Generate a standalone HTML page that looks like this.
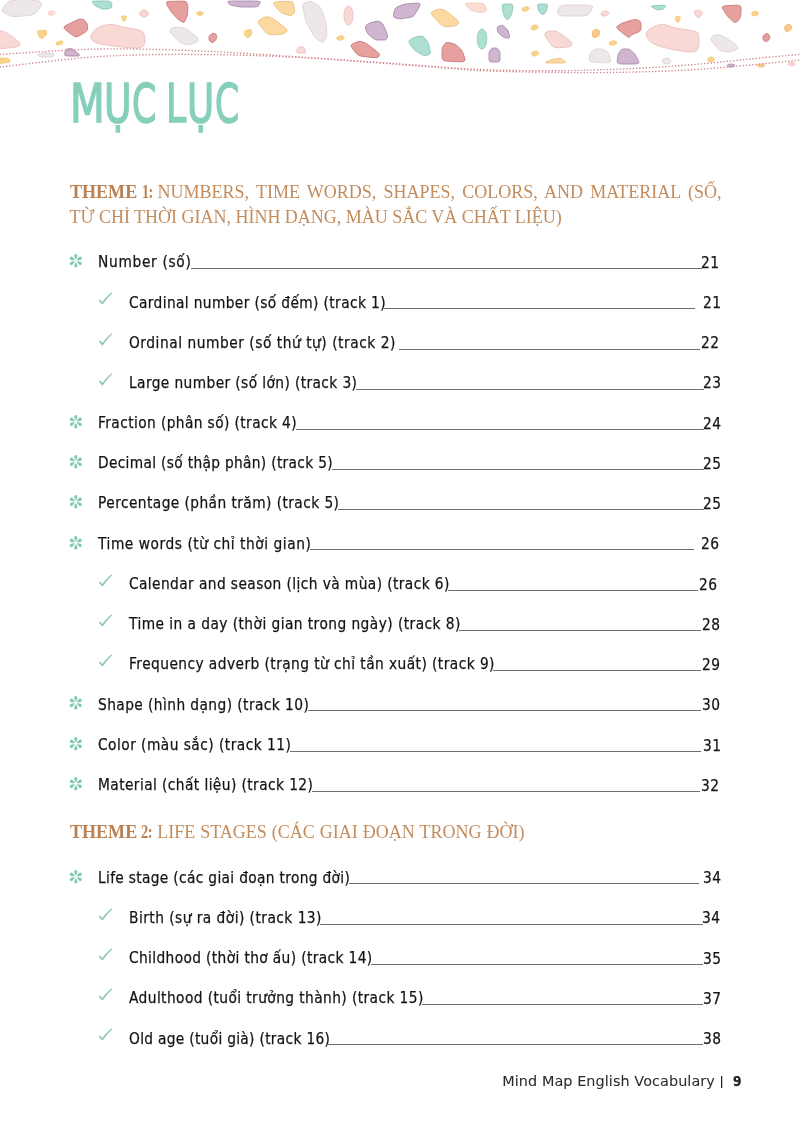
<!DOCTYPE html>
<html lang="vi"><head><meta charset="utf-8"><title>Mục lục</title>
<style>
html,body{margin:0;padding:0;background:#fff;}
body{width:800px;height:1134px;position:relative;overflow:hidden;}
.t{position:absolute;white-space:nowrap;font-family:'DejaVu Sans','Liberation Sans',sans-serif;font-size:15.3px;line-height:15.3px;color:#151314;-webkit-text-stroke:0.25px #151314;}
.c{transform:scaleX(0.9);transform-origin:0 0;}
.ln{position:absolute;height:1px;background:#707070;}
.i{position:absolute;overflow:visible;}
.th{position:absolute;white-space:nowrap;font-family:'Liberation Serif',serif;font-size:18px;line-height:18px;color:#c48c5c;}
.th.b{font-weight:bold;color:#bb8050;}
.ti{position:absolute;font-family:'DejaVu Sans',sans-serif;font-size:53.5px;line-height:60px;color:#86cfbb;-webkit-text-stroke:1.6px #86cfbb;transform-origin:0 0;white-space:nowrap;}
</style></head><body>

<svg style="position:absolute;left:0;top:0" width="800" height="80" viewBox="0 0 800 80">
<path d="M3.8,12.5 Q1.0,11.0 2.8,8.5 L6.2,3.5 Q8.0,1.0 11.5,0.5 L18.5,-0.5 Q22.0,-1.0 26.5,-0.5 L35.5,0.5 Q40.0,1.0 40.5,2.0 L41.5,4.0 Q42.0,5.0 40.0,7.5 L36.0,12.5 Q34.0,15.0 28.5,15.5 L17.5,16.5 Q12.0,17.0 9.2,15.5Z" fill="#ede7e8" stroke="#dcd2d4" stroke-width="0.9"/>
<path d="M54.8,11.8 Q55.2,12.3 55.0,13.0 L55.0,13.0 Q54.8,13.7 53.9,14.3 L53.9,14.3 Q53.0,14.9 51.9,15.1 L51.9,15.1 Q50.7,15.3 49.7,15.0 L49.7,15.0 Q48.7,14.8 48.2,14.2 L48.2,14.2 Q47.8,13.7 48.0,13.0 L48.0,13.0 Q48.2,12.3 49.1,11.7 L49.1,11.7 Q50.0,11.1 51.1,10.9 L51.1,10.9 Q52.3,10.7 53.3,11.0 L53.3,11.0 Q54.3,11.2 54.8,11.8Z" fill="#f9ddd2" stroke="#f3d0c4" stroke-width="0.9"/>
<path d="M64.4,28.6 Q62.5,27.0 66.6,25.0 L74.9,21.0 Q79.0,19.0 80.2,19.1 L82.8,19.4 Q84.0,19.5 84.9,20.6 L86.6,22.9 Q87.5,24.0 87.5,25.8 L87.5,29.2 Q87.5,31.0 84.6,32.6 L78.9,35.9 Q76.0,37.5 74.5,36.5 L71.5,34.5 Q70.0,33.5 68.1,31.9Z" fill="#e6a09e" stroke="#c97b7b" stroke-width="0.9"/>
<path d="M91.0,38.5 Q90.0,36.0 92.5,32.5 L92.5,32.5 Q95.0,29.0 99.5,27.0 L99.5,27.0 Q104.0,25.0 108.5,24.5 L108.5,24.5 Q113.0,24.0 117.0,25.5 L117.0,25.5 Q121.0,27.0 131.0,28.5 L131.0,28.5 Q141.0,30.0 143.0,32.0 L143.0,32.0 Q145.0,34.0 145.0,41.0 L145.0,41.0 Q145.0,48.0 137.5,48.0 L137.5,48.0 Q130.0,48.0 122.0,47.0 L122.0,47.0 Q114.0,46.0 106.5,45.0 L106.5,45.0 Q99.0,44.0 95.5,42.5 L95.5,42.5 Q92.0,41.0 91.0,38.5Z" fill="#f8d9d5" stroke="#ebc0bb" stroke-width="0.9"/>
<path d="M-2.0,34.8 Q-2.0,30.0 -0.2,30.5 L3.2,31.5 Q5.0,32.0 7.0,33.2 L11.0,35.8 Q13.0,37.0 15.0,38.8 L19.0,42.2 Q21.0,44.0 20.0,44.8 L18.0,46.2 Q17.0,47.0 12.2,47.5 L2.8,48.5 Q-2.0,49.0 -2.0,44.2Z" fill="#f8d9d5" stroke="#ebc0bb" stroke-width="0.9"/>
<path d="M37.5,32.5 Q37.0,31.0 39.2,30.8 L43.8,30.2 Q46.0,30.0 46.2,31.0 L46.8,33.0 Q47.0,34.0 45.8,35.2 L43.2,37.8 Q42.0,39.0 41.2,38.5 L39.8,37.5 Q39.0,37.0 38.5,35.5Z" fill="#f9d38c" stroke="#f4c878" stroke-width="0.9"/>
<path d="M62.7,41.5 Q63.2,42.0 63.0,42.7 L63.0,42.7 Q62.8,43.3 62.0,43.9 L62.0,43.9 Q61.1,44.5 60.0,44.8 L60.0,44.8 Q58.9,45.1 57.8,45.0 L57.8,45.0 Q56.8,44.9 56.3,44.5 L56.3,44.5 Q55.8,44.0 56.0,43.3 L56.0,43.3 Q56.2,42.7 57.0,42.1 L57.0,42.1 Q57.9,41.5 59.0,41.2 L59.0,41.2 Q60.1,40.9 61.2,41.0 L61.2,41.0 Q62.2,41.1 62.7,41.5Z" fill="#f9d38c" stroke="#f4c878" stroke-width="0.9"/>
<path d="M68.2,56.0 Q64.0,56.0 64.5,54.2 L65.5,50.8 Q66.0,49.0 67.5,48.9 L70.5,48.6 Q72.0,48.5 74.2,50.4 L78.8,54.1 Q81.0,56.0 76.8,56.0Z" fill="#cfb5cf" stroke="#a98aa8" stroke-width="0.9"/>
<path d="M54.1,54.4 Q55.0,55.0 54.1,55.6 L54.1,55.6 Q53.3,56.3 51.0,56.7 L51.0,56.7 Q48.8,57.1 46.0,57.1 L46.0,57.1 Q43.2,57.1 41.0,56.7 L41.0,56.7 Q38.7,56.3 37.9,55.6 L37.9,55.6 Q37.0,55.0 37.9,54.4 L37.9,54.4 Q38.7,53.7 41.0,53.3 L41.0,53.3 Q43.2,52.9 46.0,52.9 L46.0,52.9 Q48.8,52.9 51.0,53.3 L51.0,53.3 Q53.3,53.7 54.1,54.4Z" fill="#ede7e8" stroke="#dcd2d4" stroke-width="0.9"/>
<path d="M-2.0,59.5 Q-2.0,58.0 0.5,58.0 L5.5,58.0 Q8.0,58.0 8.8,59.0 L10.2,61.0 Q11.0,62.0 7.8,62.5 L1.2,63.5 Q-2.0,64.0 -2.0,62.5Z" fill="#f9d38c" stroke="#f4c878" stroke-width="0.9"/>
<path d="M92.2,1.6 Q92.0,1.0 96.5,1.0 L105.5,1.0 Q110.0,1.0 110.5,1.8 L111.5,3.2 Q112.0,4.0 111.9,5.0 L111.6,7.0 Q111.5,8.0 109.6,8.4 L105.9,9.1 Q104.0,9.5 102.2,8.9 L98.8,7.6 Q97.0,7.0 96.0,6.1 L94.0,4.4 Q93.0,3.5 92.8,2.9Z" fill="#aedfd3" stroke="#8cc6b8" stroke-width="0.9"/>
<path d="M121.5,17.2 Q121.0,16.0 122.5,16.0 L125.5,16.0 Q127.0,16.0 126.5,17.2 L125.5,19.8 Q125.0,21.0 124.5,21.0 L123.5,21.0 Q123.0,21.0 122.5,19.8Z" fill="#f9d38c" stroke="#f4c878" stroke-width="0.9"/>
<path d="M148.1,12.4 Q148.5,13.5 148.1,14.6 L148.1,14.6 Q147.6,15.7 146.5,16.4 L146.5,16.4 Q145.4,17.1 144.0,17.1 L144.0,17.1 Q142.6,17.1 141.5,16.4 L141.5,16.4 Q140.4,15.7 139.9,14.6 L139.9,14.6 Q139.5,13.5 139.9,12.4 L139.9,12.4 Q140.4,11.3 141.5,10.6 L141.5,10.6 Q142.6,9.9 144.0,9.9 L144.0,9.9 Q145.4,9.9 146.5,10.6 L146.5,10.6 Q147.6,11.3 148.1,12.4Z" fill="#f8d9d5" stroke="#ebc0bb" stroke-width="0.9"/>
<path d="M166.4,2.6 Q166.0,1.5 171.0,1.4 L181.0,1.1 Q186.0,1.0 186.5,2.2 L187.5,4.8 Q188.0,6.0 187.9,8.2 L187.6,12.8 Q187.5,15.0 186.6,17.0 L184.9,21.0 Q184.0,23.0 182.5,22.1 L179.5,20.4 Q178.0,19.5 176.5,17.9 L173.5,14.6 Q172.0,13.0 170.9,11.2 L168.6,7.8 Q167.5,6.0 167.1,4.9Z" fill="#e6a09e" stroke="#c97b7b" stroke-width="0.9"/>
<path d="M171.8,34.0 Q169.0,31.0 170.0,30.0 L172.0,28.0 Q173.0,27.0 176.0,27.2 L182.0,27.8 Q185.0,28.0 187.8,30.0 L193.2,34.0 Q196.0,36.0 196.8,37.2 L198.2,39.8 Q199.0,41.0 196.2,42.0 L190.8,44.0 Q188.0,45.0 186.0,44.5 L182.0,43.5 Q180.0,43.0 177.2,40.0Z" fill="#ede7e8" stroke="#dcd2d4" stroke-width="0.9"/>
<path d="M203.2,12.9 Q203.5,13.5 203.2,14.1 L203.2,14.1 Q202.8,14.7 202.0,15.0 L202.0,15.0 Q201.1,15.4 200.0,15.4 L200.0,15.4 Q198.9,15.4 198.0,15.0 L198.0,15.0 Q197.2,14.7 196.8,14.1 L196.8,14.1 Q196.5,13.5 196.8,12.9 L196.8,12.9 Q197.2,12.3 198.0,12.0 L198.0,12.0 Q198.9,11.6 200.0,11.6 L200.0,11.6 Q201.1,11.6 202.0,12.0 L202.0,12.0 Q202.8,12.3 203.2,12.9Z" fill="#f9d38c" stroke="#f4c878" stroke-width="0.9"/>
<path d="M227.8,2.0 Q227.0,1.0 235.5,1.0 L252.5,1.0 Q261.0,1.0 260.2,2.5 L258.8,5.5 Q258.0,7.0 253.5,7.0 L244.5,7.0 Q240.0,7.0 237.5,6.5 L232.5,5.5 Q230.0,5.0 229.2,4.0Z" fill="#cfb5cf" stroke="#a98aa8" stroke-width="0.9"/>
<path d="M274.2,4.8 Q272.0,2.0 277.2,1.8 L287.8,1.2 Q293.0,1.0 293.5,3.8 L294.5,9.2 Q295.0,12.0 294.0,13.0 L292.0,15.0 Q291.0,16.0 288.5,15.2 L283.5,13.8 Q281.0,13.0 278.8,10.2Z" fill="#fbd9a0" stroke="#ecbf80" stroke-width="0.9"/>
<path d="M259.8,25.2 Q257.0,22.0 258.8,20.8 L262.2,18.2 Q264.0,17.0 265.8,17.0 L269.2,17.0 Q271.0,17.0 275.2,20.2 L283.8,26.8 Q288.0,30.0 287.0,31.0 L285.0,33.0 Q284.0,34.0 280.0,34.2 L272.0,34.8 Q268.0,35.0 265.2,31.8Z" fill="#fbd9a0" stroke="#ecbf80" stroke-width="0.9"/>
<path d="M244.2,32.2 Q244.0,31.0 245.8,30.5 L249.2,29.5 Q251.0,29.0 251.2,30.2 L251.8,32.8 Q252.0,34.0 251.0,35.0 L249.0,37.0 Q248.0,38.0 247.2,37.5 L245.8,36.5 Q245.0,36.0 244.8,34.8Z" fill="#f9d38c" stroke="#f4c878" stroke-width="0.9"/>
<path d="M209.0,37.0 Q209.0,36.0 210.0,35.2 L212.0,33.8 Q213.0,33.0 214.0,33.5 L216.0,34.5 Q217.0,35.0 216.8,36.2 L216.2,38.8 Q216.0,40.0 215.0,40.8 L213.0,42.2 Q212.0,43.0 211.2,42.2 L209.8,40.8 Q209.0,40.0 209.0,39.0Z" fill="#e6a09e" stroke="#c97b7b" stroke-width="0.9"/>
<path d="M298.5,53.0 Q296.0,53.0 296.5,51.5 L297.5,48.5 Q298.0,47.0 299.5,47.0 L302.5,47.0 Q304.0,47.0 304.5,48.5 L305.5,51.5 Q306.0,53.0 303.5,53.0Z" fill="#f8d9d5" stroke="#ebc0bb" stroke-width="0.9"/>
<path d="M303.0,8.5 Q302.0,4.0 304.0,3.2 L308.0,1.8 Q310.0,1.0 312.5,2.2 L317.5,4.8 Q320.0,6.0 321.5,10.0 L324.5,18.0 Q326.0,22.0 326.2,25.5 L326.8,32.5 Q327.0,36.0 326.0,37.8 L324.0,41.2 Q323.0,43.0 321.0,41.8 L317.0,39.2 Q315.0,38.0 312.8,34.0 L308.2,26.0 Q306.0,22.0 305.0,17.5Z" fill="#ede7e8" stroke="#dcd2d4" stroke-width="0.9"/>
<path d="M352.8,12.6 Q353.3,15.5 352.8,18.4 L352.8,18.4 Q352.4,21.4 351.2,23.2 L351.2,23.2 Q350.0,25.0 348.5,25.0 L348.5,25.0 Q347.0,25.0 345.8,23.2 L345.8,23.2 Q344.6,21.4 344.2,18.4 L344.2,18.4 Q343.7,15.5 344.2,12.6 L344.2,12.6 Q344.6,9.6 345.8,7.8 L345.8,7.8 Q347.0,6.0 348.5,6.0 L348.5,6.0 Q350.0,6.0 351.2,7.8 L351.2,7.8 Q352.4,9.6 352.8,12.6Z" fill="#f8d9d5" stroke="#ebc0bb" stroke-width="0.9"/>
<path d="M365.5,27.8 Q365.0,26.0 366.8,25.0 L370.2,23.0 Q372.0,22.0 373.8,21.8 L377.2,21.2 Q379.0,21.0 380.0,21.8 L382.0,23.2 Q383.0,24.0 384.2,27.0 L386.8,33.0 Q388.0,36.0 387.5,37.0 L386.5,39.0 Q386.0,40.0 383.2,40.0 L377.8,40.0 Q375.0,40.0 373.0,38.2 L369.0,34.8 Q367.0,33.0 366.5,31.2Z" fill="#cfb5cf" stroke="#a98aa8" stroke-width="0.9"/>
<path d="M394.5,17.5 Q393.0,17.0 393.5,14.8 L394.5,10.2 Q395.0,8.0 397.2,7.0 L401.8,5.0 Q404.0,4.0 408.2,3.8 L416.8,3.2 Q421.0,3.0 420.0,5.0 L418.0,9.0 Q417.0,11.0 416.0,12.5 L414.0,15.5 Q413.0,17.0 409.5,17.5 L402.5,18.5 Q399.0,19.0 397.5,18.5Z" fill="#cfb5cf" stroke="#a98aa8" stroke-width="0.9"/>
<path d="M344.0,36.7 Q344.4,37.3 344.2,38.0 L344.2,38.0 Q343.9,38.7 343.0,39.3 L343.0,39.3 Q342.1,39.8 340.9,40.1 L340.9,40.1 Q339.6,40.3 338.6,40.1 L338.6,40.1 Q337.5,39.8 337.0,39.3 L337.0,39.3 Q336.6,38.7 336.8,38.0 L336.8,38.0 Q337.1,37.3 338.0,36.7 L338.0,36.7 Q338.9,36.2 340.1,35.9 L340.1,35.9 Q341.4,35.7 342.4,35.9 L342.4,35.9 Q343.5,36.2 344.0,36.7Z" fill="#f9d38c" stroke="#f4c878" stroke-width="0.9"/>
<path d="M352.0,47.8 Q350.0,45.0 352.2,44.0 L356.8,42.0 Q359.0,41.0 360.8,41.5 L364.2,42.5 Q366.0,43.0 369.5,45.8 L376.5,51.2 Q380.0,54.0 379.5,55.0 L378.5,57.0 Q378.0,58.0 373.0,57.5 L363.0,56.5 Q358.0,56.0 356.0,53.2Z" fill="#e6a09e" stroke="#c97b7b" stroke-width="0.9"/>
<path d="M433.2,16.5 Q430.0,13.0 432.0,12.0 L436.0,10.0 Q438.0,9.0 439.8,9.2 L443.2,9.8 Q445.0,10.0 448.8,13.0 L456.2,19.0 Q460.0,22.0 459.0,23.0 L457.0,25.0 Q456.0,26.0 452.8,26.2 L446.2,26.8 Q443.0,27.0 439.8,23.5Z" fill="#fbd9a0" stroke="#ecbf80" stroke-width="0.9"/>
<path d="M465.5,4.8 Q464.0,3.0 469.0,3.0 L479.0,3.0 Q484.0,3.0 484.8,5.0 L486.2,9.0 Q487.0,11.0 485.2,11.5 L481.8,12.5 Q480.0,13.0 477.5,12.2 L472.5,10.8 Q470.0,10.0 468.5,8.2Z" fill="#f9ddd2" stroke="#f3d0c4" stroke-width="0.9"/>
<path d="M409.5,43.2 Q408.0,41.0 409.8,40.0 L413.2,38.0 Q415.0,37.0 417.0,36.8 L421.0,36.2 Q423.0,36.0 424.2,37.5 L426.8,40.5 Q428.0,42.0 428.8,45.0 L430.2,51.0 Q431.0,54.0 429.2,54.5 L425.8,55.5 Q424.0,56.0 421.5,54.5 L416.5,51.5 Q414.0,50.0 412.5,47.8Z" fill="#aedfd3" stroke="#8cc6b8" stroke-width="0.9"/>
<path d="M448.0,61.2 Q442.0,61.0 442.0,57.8 L442.0,51.2 Q442.0,48.0 443.0,46.5 L445.0,43.5 Q446.0,42.0 448.2,42.5 L452.8,43.5 Q455.0,44.0 456.8,45.5 L460.2,48.5 Q462.0,50.0 463.0,53.0 L465.0,59.0 Q466.0,62.0 460.0,61.8Z" fill="#e6a09e" stroke="#c97b7b" stroke-width="0.9"/>
<path d="M486.5,35.9 Q487.0,39.0 486.5,42.1 L486.5,42.1 Q486.0,45.2 484.8,47.1 L484.8,47.1 Q483.5,49.0 482.0,49.0 L482.0,49.0 Q480.5,49.0 479.2,47.1 L479.2,47.1 Q478.0,45.2 477.5,42.1 L477.5,42.1 Q477.0,39.0 477.5,35.9 L477.5,35.9 Q478.0,32.8 479.2,30.9 L479.2,30.9 Q480.5,29.0 482.0,29.0 L482.0,29.0 Q483.5,29.0 484.8,30.9 L484.8,30.9 Q486.0,32.8 486.5,35.9Z" fill="#aedfd3" stroke="#8cc6b8" stroke-width="0.9"/>
<path d="M491.8,62.0 Q489.0,62.0 489.0,59.5 L489.0,54.5 Q489.0,52.0 489.8,51.0 L491.2,49.0 Q492.0,48.0 493.2,48.0 L495.8,48.0 Q497.0,48.0 497.8,49.0 L499.2,51.0 Q500.0,52.0 500.0,54.5 L500.0,59.5 Q500.0,62.0 497.2,62.0Z" fill="#cfb5cf" stroke="#a98aa8" stroke-width="0.9"/>
<path d="M497.2,28.5 Q497.0,27.0 498.2,26.5 L500.8,25.5 Q502.0,25.0 503.5,26.2 L506.5,28.8 Q508.0,30.0 508.5,32.0 L509.5,36.0 Q510.0,38.0 508.8,38.0 L506.2,38.0 Q505.0,38.0 503.2,36.8 L499.8,34.2 Q498.0,33.0 497.8,31.5Z" fill="#cfb5cf" stroke="#a98aa8" stroke-width="0.9"/>
<path d="M502.2,6.0 Q502.0,4.0 504.8,4.0 L510.2,4.0 Q513.0,4.0 512.8,6.5 L512.2,11.5 Q512.0,14.0 511.0,15.5 L509.0,18.5 Q508.0,20.0 507.2,19.5 L505.8,18.5 Q505.0,18.0 504.5,16.5 L503.5,13.5 Q503.0,12.0 502.8,10.0Z" fill="#aedfd3" stroke="#8cc6b8" stroke-width="0.9"/>
<path d="M537.5,6.0 Q537.0,4.0 539.8,4.0 L545.2,4.0 Q548.0,4.0 547.5,6.0 L546.5,10.0 Q546.0,12.0 545.2,12.8 L543.8,14.2 Q543.0,15.0 542.0,14.2 L540.0,12.8 Q539.0,12.0 538.5,10.0Z" fill="#aedfd3" stroke="#8cc6b8" stroke-width="0.9"/>
<path d="M557.8,13.0 Q557.0,12.0 558.0,10.2 L560.0,6.8 Q561.0,5.0 569.2,5.0 L585.8,5.0 Q594.0,5.0 592.5,7.8 L589.5,13.2 Q588.0,16.0 581.0,16.0 L567.0,16.0 Q560.0,16.0 559.2,15.0Z" fill="#ede7e8" stroke="#dcd2d4" stroke-width="0.9"/>
<path d="M528.7,7.5 Q529.2,8.0 529.0,8.7 L529.0,8.7 Q528.8,9.5 528.0,10.1 L528.0,10.1 Q527.2,10.7 526.0,11.0 L526.0,11.0 Q524.9,11.3 523.9,11.2 L523.9,11.2 Q522.9,11.0 522.3,10.5 L522.3,10.5 Q521.8,10.0 522.0,9.3 L522.0,9.3 Q522.2,8.5 523.0,7.9 L523.0,7.9 Q523.8,7.3 525.0,7.0 L525.0,7.0 Q526.1,6.7 527.1,6.8 L527.1,6.8 Q528.1,7.0 528.7,7.5Z" fill="#f9d38c" stroke="#f4c878" stroke-width="0.9"/>
<path d="M537.5,25.6 Q538.1,26.2 538.0,27.0 L538.0,27.0 Q537.9,27.8 537.2,28.6 L537.2,28.6 Q536.4,29.3 535.3,29.7 L535.3,29.7 Q534.2,30.1 533.2,30.0 L533.2,30.0 Q532.1,29.9 531.5,29.4 L531.5,29.4 Q530.9,28.8 531.0,28.0 L531.0,28.0 Q531.1,27.2 531.8,26.4 L531.8,26.4 Q532.6,25.7 533.7,25.3 L533.7,25.3 Q534.8,24.9 535.8,25.0 L535.8,25.0 Q536.9,25.1 537.5,25.6Z" fill="#f9d38c" stroke="#f4c878" stroke-width="0.9"/>
<path d="M546.2,37.5 Q544.0,34.0 545.0,33.2 L547.0,31.8 Q548.0,31.0 550.2,31.0 L554.8,31.0 Q557.0,31.0 561.0,34.0 L569.0,40.0 Q573.0,43.0 572.2,44.0 L570.8,46.0 Q570.0,47.0 565.8,47.2 L557.2,47.8 Q553.0,48.0 550.8,44.5Z" fill="#f8d9d5" stroke="#ebc0bb" stroke-width="0.9"/>
<path d="M538.3,51.9 Q538.9,52.5 538.7,53.3 L538.7,53.3 Q538.5,54.1 537.7,54.8 L537.7,54.8 Q536.8,55.5 535.6,55.8 L535.6,55.8 Q534.4,56.1 533.3,55.9 L533.3,55.9 Q532.3,55.8 531.7,55.1 L531.7,55.1 Q531.1,54.5 531.3,53.7 L531.3,53.7 Q531.5,52.9 532.3,52.2 L532.3,52.2 Q533.2,51.5 534.4,51.2 L534.4,51.2 Q535.6,50.9 536.7,51.1 L536.7,51.1 Q537.7,51.2 538.3,51.9Z" fill="#f9d38c" stroke="#f4c878" stroke-width="0.9"/>
<path d="M549.2,63.0 Q544.0,63.0 545.5,62.2 L548.5,60.8 Q550.0,60.0 552.5,59.5 L557.5,58.5 Q560.0,58.0 561.5,59.0 L564.5,61.0 Q566.0,62.0 565.8,62.2 L565.2,62.8 Q565.0,63.0 559.8,63.0Z" fill="#fbd9a0" stroke="#ecbf80" stroke-width="0.9"/>
<path d="M592.2,32.8 Q592.0,31.0 593.2,30.5 L595.8,29.5 Q597.0,29.0 597.8,29.5 L599.2,30.5 Q600.0,31.0 599.8,32.2 L599.2,34.8 Q599.0,36.0 597.5,36.5 L594.5,37.5 Q593.0,38.0 592.8,36.2Z" fill="#f8c98a" stroke="#f2bc74" stroke-width="0.9"/>
<path d="M594.5,62.2 Q589.0,62.0 589.2,59.8 L589.8,55.2 Q590.0,53.0 591.2,52.0 L593.8,50.0 Q595.0,49.0 597.0,49.0 L601.0,49.0 Q603.0,49.0 604.5,50.0 L607.5,52.0 Q609.0,53.0 609.5,55.5 L610.5,60.5 Q611.0,63.0 605.5,62.8Z" fill="#ede7e8" stroke="#dcd2d4" stroke-width="0.9"/>
<path d="M651.8,7.0 Q650.0,6.0 654.0,5.8 L662.0,5.2 Q666.0,5.0 665.5,6.0 L664.5,8.0 Q664.0,9.0 662.2,9.2 L658.8,9.8 Q657.0,10.0 655.2,9.0Z" fill="#aedfd3" stroke="#8cc6b8" stroke-width="0.9"/>
<path d="M608.6,12.1 Q609.1,12.8 608.9,13.6 L608.9,13.6 Q608.6,14.4 607.7,15.1 L607.7,15.1 Q606.7,15.7 605.4,15.9 L605.4,15.9 Q604.2,16.2 603.0,15.9 L603.0,15.9 Q601.9,15.6 601.4,14.9 L601.4,14.9 Q600.9,14.2 601.1,13.4 L601.1,13.4 Q601.4,12.6 602.3,11.9 L602.3,11.9 Q603.3,11.3 604.6,11.1 L604.6,11.1 Q605.8,10.8 607.0,11.1 L607.0,11.1 Q608.1,11.4 608.6,12.1Z" fill="#f8d9d5" stroke="#ebc0bb" stroke-width="0.9"/>
<path d="M617.0,28.0 Q616.0,27.0 617.5,26.0 L620.5,24.0 Q622.0,23.0 625.5,22.0 L632.5,20.0 Q636.0,19.0 637.2,19.8 L639.8,21.2 Q641.0,22.0 641.0,24.2 L641.0,28.8 Q641.0,31.0 638.5,32.0 L633.5,34.0 Q631.0,35.0 630.5,35.8 L629.5,37.2 Q629.0,38.0 626.8,36.2 L622.2,32.8 Q620.0,31.0 619.0,30.0Z" fill="#e6a09e" stroke="#c97b7b" stroke-width="0.9"/>
<path d="M647.5,38.5 Q645.0,34.0 647.0,31.5 L647.0,31.5 Q649.0,29.0 654.5,26.5 L654.5,26.5 Q660.0,24.0 663.5,24.5 L663.5,24.5 Q667.0,25.0 670.0,26.5 L670.0,26.5 Q673.0,28.0 685.0,29.5 L685.0,29.5 Q697.0,31.0 698.0,33.0 L698.0,33.0 Q699.0,35.0 699.0,43.5 L699.0,43.5 Q699.0,52.0 692.0,52.0 L692.0,52.0 Q685.0,52.0 675.0,50.0 L675.0,50.0 Q665.0,48.0 657.5,45.5 L657.5,45.5 Q650.0,43.0 647.5,38.5Z" fill="#f8d9d5" stroke="#ebc0bb" stroke-width="0.9"/>
<path d="M675.2,18.0 Q675.0,17.0 676.2,16.8 L678.8,16.2 Q680.0,16.0 680.0,17.0 L680.0,19.0 Q680.0,20.0 679.5,20.8 L678.5,22.2 Q678.0,23.0 677.5,22.5 L676.5,21.5 Q676.0,21.0 675.8,20.0Z" fill="#f9d38c" stroke="#f4c878" stroke-width="0.9"/>
<path d="M694.5,12.2 Q694.0,11.0 695.5,10.8 L698.5,10.2 Q700.0,10.0 700.8,10.8 L702.2,12.2 Q703.0,13.0 702.0,14.2 L700.0,16.8 Q699.0,18.0 698.2,17.5 L696.8,16.5 Q696.0,16.0 695.5,14.8Z" fill="#f8d9d5" stroke="#ebc0bb" stroke-width="0.9"/>
<path d="M616.5,41.7 Q616.9,42.3 616.7,43.0 L616.7,43.0 Q616.4,43.7 615.5,44.3 L615.5,44.3 Q614.6,44.8 613.4,45.1 L613.4,45.1 Q612.1,45.3 611.1,45.1 L611.1,45.1 Q610.0,44.8 609.5,44.3 L609.5,44.3 Q609.1,43.7 609.3,43.0 L609.3,43.0 Q609.6,42.3 610.5,41.7 L610.5,41.7 Q611.4,41.2 612.6,40.9 L612.6,40.9 Q613.9,40.7 614.9,40.9 L614.9,40.9 Q616.0,41.2 616.5,41.7Z" fill="#f9d38c" stroke="#f4c878" stroke-width="0.9"/>
<path d="M622.8,64.0 Q617.0,64.0 617.2,61.5 L617.8,56.5 Q618.0,54.0 619.0,52.8 L621.0,50.2 Q622.0,49.0 623.8,49.0 L627.2,49.0 Q629.0,49.0 630.5,50.2 L633.5,52.8 Q635.0,54.0 636.2,56.5 L638.8,61.5 Q640.0,64.0 634.2,64.0Z" fill="#cfb5cf" stroke="#a98aa8" stroke-width="0.9"/>
<path d="M670.6,60.1 Q671.0,61.0 670.6,61.9 L670.6,61.9 Q670.1,62.8 669.0,63.3 L669.0,63.3 Q667.9,63.9 666.5,63.9 L666.5,63.9 Q665.1,63.9 664.0,63.3 L664.0,63.3 Q662.9,62.8 662.4,61.9 L662.4,61.9 Q662.0,61.0 662.4,60.1 L662.4,60.1 Q662.9,59.2 664.0,58.7 L664.0,58.7 Q665.1,58.1 666.5,58.1 L666.5,58.1 Q667.9,58.1 669.0,58.7 L669.0,58.7 Q670.1,59.2 670.6,60.1Z" fill="#ede7e8" stroke="#dcd2d4" stroke-width="0.9"/>
<path d="M722.8,8.8 Q721.0,6.0 726.0,5.8 L736.0,5.2 Q741.0,5.0 741.0,7.5 L741.0,12.5 Q741.0,15.0 740.5,16.2 L739.5,18.8 Q739.0,20.0 738.0,20.8 L736.0,22.2 Q735.0,23.0 733.2,21.5 L729.8,18.5 Q728.0,17.0 726.2,14.2Z" fill="#e6a09e" stroke="#c97b7b" stroke-width="0.9"/>
<path d="M758.0,12.2 Q758.4,12.9 758.2,13.7 L758.2,13.7 Q758.0,14.5 757.3,15.1 L757.3,15.1 Q756.5,15.7 755.4,15.8 L755.4,15.8 Q754.3,16.0 753.4,15.7 L753.4,15.7 Q752.5,15.4 752.0,14.8 L752.0,14.8 Q751.6,14.1 751.8,13.3 L751.8,13.3 Q752.0,12.5 752.7,11.9 L752.7,11.9 Q753.5,11.3 754.6,11.2 L754.6,11.2 Q755.7,11.0 756.6,11.3 L756.6,11.3 Q757.5,11.6 758.0,12.2Z" fill="#f9d38c" stroke="#f4c878" stroke-width="0.9"/>
<path d="M763.0,37.0 Q763.0,36.0 764.0,35.2 L766.0,33.8 Q767.0,33.0 767.8,33.8 L769.2,35.2 Q770.0,36.0 769.8,37.0 L769.2,39.0 Q769.0,40.0 768.2,40.5 L766.8,41.5 Q766.0,42.0 765.2,41.5 L763.8,40.5 Q763.0,40.0 763.0,39.0Z" fill="#e6a09e" stroke="#c97b7b" stroke-width="0.9"/>
<path d="M784.5,28.2 Q784.0,27.0 785.0,26.2 L787.0,24.8 Q788.0,24.0 789.0,24.5 L791.0,25.5 Q792.0,26.0 791.8,27.0 L791.2,29.0 Q791.0,30.0 789.8,30.5 L787.2,31.5 Q786.0,32.0 785.5,30.8Z" fill="#f8c98a" stroke="#f2bc74" stroke-width="0.9"/>
<path d="M712.5,42.0 Q710.0,39.0 711.0,38.0 L713.0,36.0 Q714.0,35.0 715.8,35.0 L719.2,35.0 Q721.0,35.0 725.0,37.5 L733.0,42.5 Q737.0,45.0 737.2,46.0 L737.8,48.0 Q738.0,49.0 735.8,49.8 L731.2,51.2 Q729.0,52.0 726.8,51.8 L722.2,51.2 Q720.0,51.0 717.5,48.0Z" fill="#ede7e8" stroke="#dcd2d4" stroke-width="0.9"/>
<path d="M714.2,58.8 Q714.5,59.5 714.2,60.2 L714.2,60.2 Q713.8,61.0 713.0,61.4 L713.0,61.4 Q712.1,61.9 711.0,61.9 L711.0,61.9 Q709.9,61.9 709.0,61.4 L709.0,61.4 Q708.2,61.0 707.8,60.2 L707.8,60.2 Q707.5,59.5 707.8,58.8 L707.8,58.8 Q708.2,58.0 709.0,57.6 L709.0,57.6 Q709.9,57.1 711.0,57.1 L711.0,57.1 Q712.1,57.1 713.0,57.6 L713.0,57.6 Q713.8,58.0 714.2,58.8Z" fill="#f9d38c" stroke="#f4c878" stroke-width="0.9"/>
<path d="M734.6,65.1 Q735.0,65.5 734.6,65.9 L734.6,65.9 Q734.2,66.4 733.2,66.7 L733.2,66.7 Q732.2,66.9 731.0,66.9 L731.0,66.9 Q729.8,66.9 728.8,66.7 L728.8,66.7 Q727.8,66.4 727.4,65.9 L727.4,65.9 Q727.0,65.5 727.4,65.1 L727.4,65.1 Q727.8,64.6 728.8,64.3 L728.8,64.3 Q729.8,64.1 731.0,64.1 L731.0,64.1 Q732.2,64.1 733.2,64.3 L733.2,64.3 Q734.2,64.6 734.6,65.1Z" fill="#cfb5cf" stroke="#a98aa8" stroke-width="0.9"/>
<path d="M764.6,65.0 Q765.0,65.5 764.6,66.0 L764.6,66.0 Q764.2,66.4 763.2,66.7 L763.2,66.7 Q762.2,67.0 761.0,67.0 L761.0,67.0 Q759.8,67.0 758.8,66.7 L758.8,66.7 Q757.8,66.4 757.4,66.0 L757.4,66.0 Q757.0,65.5 757.4,65.0 L757.4,65.0 Q757.8,64.6 758.8,64.3 L758.8,64.3 Q759.8,64.0 761.0,64.0 L761.0,64.0 Q762.2,64.0 763.2,64.3 L763.2,64.3 Q764.2,64.6 764.6,65.0Z" fill="#f8c98a" stroke="#f2bc74" stroke-width="0.9"/>
<path d="M794.9,63.4 Q795.3,64.0 794.9,64.6 L794.9,64.6 Q794.6,65.2 793.6,65.5 L793.6,65.5 Q792.7,65.9 791.5,65.9 L791.5,65.9 Q790.3,65.9 789.4,65.5 L789.4,65.5 Q788.4,65.2 788.1,64.6 L788.1,64.6 Q787.7,64.0 788.1,63.4 L788.1,63.4 Q788.4,62.8 789.4,62.5 L789.4,62.5 Q790.3,62.1 791.5,62.1 L791.5,62.1 Q792.7,62.1 793.6,62.5 L793.6,62.5 Q794.6,62.8 794.9,63.4Z" fill="#f8d9d5" stroke="#ebc0bb" stroke-width="0.9"/>
<path d="M-5.0,55.0 C-4.2,54.9 -17.5,55.4 0.0,54.4 C17.5,53.4 66.7,49.6 100.0,49.0 C133.3,48.4 166.7,49.7 200.0,51.0 C233.3,52.3 266.7,54.8 300.0,57.0 C333.3,59.2 370.0,61.9 400.0,64.0 C430.0,66.1 455.0,68.4 480.0,69.5 C505.0,70.6 530.0,70.8 550.0,70.8 C570.0,70.8 583.3,70.3 600.0,69.8 C616.7,69.3 633.3,68.6 650.0,67.6 C666.7,66.6 683.3,65.4 700.0,64.0 C716.7,62.6 733.3,60.6 750.0,59.0 C766.7,57.4 790.8,55.2 800.0,54.3 C809.2,53.4 804.2,53.8 805.0,53.7" fill="none" stroke="#d4878d" stroke-width="1.35" stroke-dasharray="1.35 1.9"/>
<path d="M-5.0,67.5 C-4.2,67.4 -17.5,68.8 0.0,67.0 C17.5,65.2 66.7,58.6 100.0,56.5 C133.3,54.4 166.7,54.3 200.0,54.5 C233.3,54.7 266.7,55.8 300.0,57.5 C333.3,59.2 370.0,62.3 400.0,64.5 C430.0,66.7 455.0,69.2 480.0,70.5 C505.0,71.8 530.0,72.0 550.0,72.3 C570.0,72.6 583.3,72.7 600.0,72.6 C616.7,72.5 633.3,72.1 650.0,71.6 C666.7,71.0 683.3,70.4 700.0,69.3 C716.7,68.2 733.3,66.5 750.0,65.0 C766.7,63.5 790.8,60.9 800.0,60.0 C809.2,59.1 804.2,59.5 805.0,59.4" fill="none" stroke="#d4878d" stroke-width="1.35" stroke-dasharray="1.35 1.9"/>
</svg>
<div aria-label="MỤC LỤC">
<span class="ti" style="left:70.29px;top:73.80px;transform:scaleX(0.7526)">M</span>
<span class="ti" style="left:104.29px;top:73.80px;transform:scaleX(0.7032)">Ụ</span>
<span class="ti" style="left:131.91px;top:73.80px;transform:scaleX(0.6470)">C</span>
<span style="position:absolute;left:160px;top:80px"> </span>
<span class="ti" style="left:165.59px;top:73.80px;transform:scaleX(0.6769)">L</span>
<span class="ti" style="left:187.18px;top:73.80px;transform:scaleX(0.6935)">Ụ</span>
<span class="ti" style="left:214.51px;top:73.80px;transform:scaleX(0.6439)">C</span>
</div>
<div class="th b" style="left:69.6px;top:183.12px;transform:scaleX(1.0028);transform-origin:0 0">THEME</div>
<div class="th b" style="left:141.6px;top:183.12px;letter-spacing:-0.6px;transform:scaleX(0.7833);transform-origin:0 0">1:</div>
<div class="th" style="left:157.5px;top:183.12px;word-spacing:2.74px">NUMBERS, TIME WORDS, SHAPES, COLORS, AND MATERIAL (SỐ,</div>
<div class="th" style="left:69.6px;top:207.72px;word-spacing:-0.07px">TỪ CHỈ THỜI GIAN, HÌNH DẠNG, MÀU SẮC VÀ CHẤT LIỆU)</div>
<div class="th b" style="left:69.6px;top:822.52px;transform:scaleX(1.0028);transform-origin:0 0">THEME</div>
<div class="th b" style="left:141.2px;top:822.52px;letter-spacing:-0.6px;transform:scaleX(0.8067);transform-origin:0 0">2:</div>
<div class="th" style="left:157.2px;top:822.52px;word-spacing:0.53px">LIFE STAGES (CÁC GIAI ĐOẠN TRONG ĐỜI)</div>
<svg class="i" style="left:67.9px;top:253.1px" width="15.6" height="15.6" viewBox="-7 -7 14 14"><g fill="#80c9b6"><path d="M0,-0.9 C-0.4,-1.9 -1.45,-3.4 -1.45,-4.55 A1.45,1.45 0 0 1 1.45,-4.55 C1.45,-3.4 0.4,-1.9 0,-0.9Z" transform="rotate(0)"/><path d="M0,-0.9 C-0.4,-1.9 -1.45,-3.4 -1.45,-4.55 A1.45,1.45 0 0 1 1.45,-4.55 C1.45,-3.4 0.4,-1.9 0,-0.9Z" transform="rotate(60)"/><path d="M0,-0.9 C-0.4,-1.9 -1.45,-3.4 -1.45,-4.55 A1.45,1.45 0 0 1 1.45,-4.55 C1.45,-3.4 0.4,-1.9 0,-0.9Z" transform="rotate(120)"/><path d="M0,-0.9 C-0.4,-1.9 -1.45,-3.4 -1.45,-4.55 A1.45,1.45 0 0 1 1.45,-4.55 C1.45,-3.4 0.4,-1.9 0,-0.9Z" transform="rotate(180)"/><path d="M0,-0.9 C-0.4,-1.9 -1.45,-3.4 -1.45,-4.55 A1.45,1.45 0 0 1 1.45,-4.55 C1.45,-3.4 0.4,-1.9 0,-0.9Z" transform="rotate(240)"/><path d="M0,-0.9 C-0.4,-1.9 -1.45,-3.4 -1.45,-4.55 A1.45,1.45 0 0 1 1.45,-4.55 C1.45,-3.4 0.4,-1.9 0,-0.9Z" transform="rotate(300)"/></g></svg>
<div class="t c" style="left:97.9px;top:255.26px;letter-spacing:0.756px">Number (số)</div>
<div class="ln" style="left:191.2px;width:510.5px;top:267.9px"></div>
<div class="t c" style="left:701.3px;top:255.86px;letter-spacing:0.667px">21</div>
<svg class="i" style="left:94.0px;top:291.3px" width="20" height="16" viewBox="0 0 20 16"><path d="M5.0,9.7 Q5.0,8.5 6.2,8.5 L8.3,10.9 Q12.2,5.6 17.2,1.6 Q18.1,1.4 18.1,2.3 Q12.9,7.2 9.0,13.0 Q8.3,13.7 7.7,13.1 Z" fill="#92c7b9"/></svg>
<div class="t c" style="left:128.5px;top:295.66px;letter-spacing:0.417px">Cardinal number (số đếm) (track 1)</div>
<div class="ln" style="left:384.0px;width:310.6px;top:308.3px"></div>
<div class="t c" style="left:702.9px;top:296.26px;letter-spacing:0.667px">21</div>
<svg class="i" style="left:94.0px;top:331.5px" width="20" height="16" viewBox="0 0 20 16"><path d="M5.0,9.7 Q5.0,8.5 6.2,8.5 L8.3,10.9 Q12.2,5.6 17.2,1.6 Q18.1,1.4 18.1,2.3 Q12.9,7.2 9.0,13.0 Q8.3,13.7 7.7,13.1 Z" fill="#92c7b9"/></svg>
<div class="t c" style="left:128.5px;top:335.86px;letter-spacing:0.594px">Ordinal number (số thứ tự) (track 2)</div>
<div class="ln" style="left:398.8px;width:301.3px;top:348.5px"></div>
<div class="t c" style="left:701.3px;top:336.46px;letter-spacing:0.667px">22</div>
<svg class="i" style="left:94.0px;top:371.5px" width="20" height="16" viewBox="0 0 20 16"><path d="M5.0,9.7 Q5.0,8.5 6.2,8.5 L8.3,10.9 Q12.2,5.6 17.2,1.6 Q18.1,1.4 18.1,2.3 Q12.9,7.2 9.0,13.0 Q8.3,13.7 7.7,13.1 Z" fill="#92c7b9"/></svg>
<div class="t c" style="left:128.5px;top:375.86px;letter-spacing:0.437px">Large number (số lớn) (track 3)</div>
<div class="ln" style="left:355.5px;width:348.0px;top:388.5px"></div>
<div class="t c" style="left:702.7px;top:376.46px;letter-spacing:0.667px">23</div>
<svg class="i" style="left:67.9px;top:413.9px" width="15.6" height="15.6" viewBox="-7 -7 14 14"><g fill="#80c9b6"><path d="M0,-0.9 C-0.4,-1.9 -1.45,-3.4 -1.45,-4.55 A1.45,1.45 0 0 1 1.45,-4.55 C1.45,-3.4 0.4,-1.9 0,-0.9Z" transform="rotate(0)"/><path d="M0,-0.9 C-0.4,-1.9 -1.45,-3.4 -1.45,-4.55 A1.45,1.45 0 0 1 1.45,-4.55 C1.45,-3.4 0.4,-1.9 0,-0.9Z" transform="rotate(60)"/><path d="M0,-0.9 C-0.4,-1.9 -1.45,-3.4 -1.45,-4.55 A1.45,1.45 0 0 1 1.45,-4.55 C1.45,-3.4 0.4,-1.9 0,-0.9Z" transform="rotate(120)"/><path d="M0,-0.9 C-0.4,-1.9 -1.45,-3.4 -1.45,-4.55 A1.45,1.45 0 0 1 1.45,-4.55 C1.45,-3.4 0.4,-1.9 0,-0.9Z" transform="rotate(180)"/><path d="M0,-0.9 C-0.4,-1.9 -1.45,-3.4 -1.45,-4.55 A1.45,1.45 0 0 1 1.45,-4.55 C1.45,-3.4 0.4,-1.9 0,-0.9Z" transform="rotate(240)"/><path d="M0,-0.9 C-0.4,-1.9 -1.45,-3.4 -1.45,-4.55 A1.45,1.45 0 0 1 1.45,-4.55 C1.45,-3.4 0.4,-1.9 0,-0.9Z" transform="rotate(300)"/></g></svg>
<div class="t c" style="left:97.9px;top:416.06px;letter-spacing:0.438px">Fraction (phân số) (track 4)</div>
<div class="ln" style="left:295.5px;width:408.0px;top:428.7px"></div>
<div class="t c" style="left:702.7px;top:416.66px;letter-spacing:0.667px">24</div>
<svg class="i" style="left:67.9px;top:454.1px" width="15.6" height="15.6" viewBox="-7 -7 14 14"><g fill="#80c9b6"><path d="M0,-0.9 C-0.4,-1.9 -1.45,-3.4 -1.45,-4.55 A1.45,1.45 0 0 1 1.45,-4.55 C1.45,-3.4 0.4,-1.9 0,-0.9Z" transform="rotate(0)"/><path d="M0,-0.9 C-0.4,-1.9 -1.45,-3.4 -1.45,-4.55 A1.45,1.45 0 0 1 1.45,-4.55 C1.45,-3.4 0.4,-1.9 0,-0.9Z" transform="rotate(60)"/><path d="M0,-0.9 C-0.4,-1.9 -1.45,-3.4 -1.45,-4.55 A1.45,1.45 0 0 1 1.45,-4.55 C1.45,-3.4 0.4,-1.9 0,-0.9Z" transform="rotate(120)"/><path d="M0,-0.9 C-0.4,-1.9 -1.45,-3.4 -1.45,-4.55 A1.45,1.45 0 0 1 1.45,-4.55 C1.45,-3.4 0.4,-1.9 0,-0.9Z" transform="rotate(180)"/><path d="M0,-0.9 C-0.4,-1.9 -1.45,-3.4 -1.45,-4.55 A1.45,1.45 0 0 1 1.45,-4.55 C1.45,-3.4 0.4,-1.9 0,-0.9Z" transform="rotate(240)"/><path d="M0,-0.9 C-0.4,-1.9 -1.45,-3.4 -1.45,-4.55 A1.45,1.45 0 0 1 1.45,-4.55 C1.45,-3.4 0.4,-1.9 0,-0.9Z" transform="rotate(300)"/></g></svg>
<div class="t c" style="left:97.9px;top:456.26px;letter-spacing:0.353px">Decimal (số thập phân) (track 5)</div>
<div class="ln" style="left:331.5px;width:372.0px;top:468.9px"></div>
<div class="t c" style="left:702.7px;top:456.86px;letter-spacing:0.667px">25</div>
<svg class="i" style="left:67.9px;top:494.3px" width="15.6" height="15.6" viewBox="-7 -7 14 14"><g fill="#80c9b6"><path d="M0,-0.9 C-0.4,-1.9 -1.45,-3.4 -1.45,-4.55 A1.45,1.45 0 0 1 1.45,-4.55 C1.45,-3.4 0.4,-1.9 0,-0.9Z" transform="rotate(0)"/><path d="M0,-0.9 C-0.4,-1.9 -1.45,-3.4 -1.45,-4.55 A1.45,1.45 0 0 1 1.45,-4.55 C1.45,-3.4 0.4,-1.9 0,-0.9Z" transform="rotate(60)"/><path d="M0,-0.9 C-0.4,-1.9 -1.45,-3.4 -1.45,-4.55 A1.45,1.45 0 0 1 1.45,-4.55 C1.45,-3.4 0.4,-1.9 0,-0.9Z" transform="rotate(120)"/><path d="M0,-0.9 C-0.4,-1.9 -1.45,-3.4 -1.45,-4.55 A1.45,1.45 0 0 1 1.45,-4.55 C1.45,-3.4 0.4,-1.9 0,-0.9Z" transform="rotate(180)"/><path d="M0,-0.9 C-0.4,-1.9 -1.45,-3.4 -1.45,-4.55 A1.45,1.45 0 0 1 1.45,-4.55 C1.45,-3.4 0.4,-1.9 0,-0.9Z" transform="rotate(240)"/><path d="M0,-0.9 C-0.4,-1.9 -1.45,-3.4 -1.45,-4.55 A1.45,1.45 0 0 1 1.45,-4.55 C1.45,-3.4 0.4,-1.9 0,-0.9Z" transform="rotate(300)"/></g></svg>
<div class="t c" style="left:97.9px;top:496.46px;letter-spacing:0.473px">Percentage (phần trăm) (track 5)</div>
<div class="ln" style="left:337.9px;width:365.7px;top:509.1px"></div>
<div class="t c" style="left:702.8px;top:497.06px;letter-spacing:0.667px">25</div>
<svg class="i" style="left:67.9px;top:534.6px" width="15.6" height="15.6" viewBox="-7 -7 14 14"><g fill="#80c9b6"><path d="M0,-0.9 C-0.4,-1.9 -1.45,-3.4 -1.45,-4.55 A1.45,1.45 0 0 1 1.45,-4.55 C1.45,-3.4 0.4,-1.9 0,-0.9Z" transform="rotate(0)"/><path d="M0,-0.9 C-0.4,-1.9 -1.45,-3.4 -1.45,-4.55 A1.45,1.45 0 0 1 1.45,-4.55 C1.45,-3.4 0.4,-1.9 0,-0.9Z" transform="rotate(60)"/><path d="M0,-0.9 C-0.4,-1.9 -1.45,-3.4 -1.45,-4.55 A1.45,1.45 0 0 1 1.45,-4.55 C1.45,-3.4 0.4,-1.9 0,-0.9Z" transform="rotate(120)"/><path d="M0,-0.9 C-0.4,-1.9 -1.45,-3.4 -1.45,-4.55 A1.45,1.45 0 0 1 1.45,-4.55 C1.45,-3.4 0.4,-1.9 0,-0.9Z" transform="rotate(180)"/><path d="M0,-0.9 C-0.4,-1.9 -1.45,-3.4 -1.45,-4.55 A1.45,1.45 0 0 1 1.45,-4.55 C1.45,-3.4 0.4,-1.9 0,-0.9Z" transform="rotate(240)"/><path d="M0,-0.9 C-0.4,-1.9 -1.45,-3.4 -1.45,-4.55 A1.45,1.45 0 0 1 1.45,-4.55 C1.45,-3.4 0.4,-1.9 0,-0.9Z" transform="rotate(300)"/></g></svg>
<div class="t c" style="left:97.9px;top:536.76px;letter-spacing:0.602px">Time words (từ chỉ thời gian)</div>
<div class="ln" style="left:309.9px;width:384.6px;top:549.4px"></div>
<div class="t c" style="left:700.7px;top:537.36px;letter-spacing:0.667px">26</div>
<svg class="i" style="left:94.0px;top:572.6px" width="20" height="16" viewBox="0 0 20 16"><path d="M5.0,9.7 Q5.0,8.5 6.2,8.5 L8.3,10.9 Q12.2,5.6 17.2,1.6 Q18.1,1.4 18.1,2.3 Q12.9,7.2 9.0,13.0 Q8.3,13.7 7.7,13.1 Z" fill="#92c7b9"/></svg>
<div class="t c" style="left:128.5px;top:576.96px;letter-spacing:0.454px">Calendar and season (lịch và mùa) (track 6)</div>
<div class="ln" style="left:447.9px;width:250.0px;top:589.6px"></div>
<div class="t c" style="left:699.2px;top:577.56px;letter-spacing:0.667px">26</div>
<svg class="i" style="left:94.0px;top:612.8px" width="20" height="16" viewBox="0 0 20 16"><path d="M5.0,9.7 Q5.0,8.5 6.2,8.5 L8.3,10.9 Q12.2,5.6 17.2,1.6 Q18.1,1.4 18.1,2.3 Q12.9,7.2 9.0,13.0 Q8.3,13.7 7.7,13.1 Z" fill="#92c7b9"/></svg>
<div class="t c" style="left:128.5px;top:617.16px;letter-spacing:0.491px">Time in a day (thời gian trong ngày) (track 8)</div>
<div class="ln" style="left:458.9px;width:242.1px;top:629.8px"></div>
<div class="t c" style="left:702.2px;top:617.76px;letter-spacing:0.667px">28</div>
<svg class="i" style="left:94.0px;top:652.8px" width="20" height="16" viewBox="0 0 20 16"><path d="M5.0,9.7 Q5.0,8.5 6.2,8.5 L8.3,10.9 Q12.2,5.6 17.2,1.6 Q18.1,1.4 18.1,2.3 Q12.9,7.2 9.0,13.0 Q8.3,13.7 7.7,13.1 Z" fill="#92c7b9"/></svg>
<div class="t c" style="left:128.5px;top:657.16px;letter-spacing:0.485px">Frequency adverb (trạng từ chỉ tần xuất) (track 9)</div>
<div class="ln" style="left:493.0px;width:208.0px;top:669.8px"></div>
<div class="t c" style="left:702.2px;top:657.76px;letter-spacing:0.667px">29</div>
<svg class="i" style="left:67.9px;top:695.4px" width="15.6" height="15.6" viewBox="-7 -7 14 14"><g fill="#80c9b6"><path d="M0,-0.9 C-0.4,-1.9 -1.45,-3.4 -1.45,-4.55 A1.45,1.45 0 0 1 1.45,-4.55 C1.45,-3.4 0.4,-1.9 0,-0.9Z" transform="rotate(0)"/><path d="M0,-0.9 C-0.4,-1.9 -1.45,-3.4 -1.45,-4.55 A1.45,1.45 0 0 1 1.45,-4.55 C1.45,-3.4 0.4,-1.9 0,-0.9Z" transform="rotate(60)"/><path d="M0,-0.9 C-0.4,-1.9 -1.45,-3.4 -1.45,-4.55 A1.45,1.45 0 0 1 1.45,-4.55 C1.45,-3.4 0.4,-1.9 0,-0.9Z" transform="rotate(120)"/><path d="M0,-0.9 C-0.4,-1.9 -1.45,-3.4 -1.45,-4.55 A1.45,1.45 0 0 1 1.45,-4.55 C1.45,-3.4 0.4,-1.9 0,-0.9Z" transform="rotate(180)"/><path d="M0,-0.9 C-0.4,-1.9 -1.45,-3.4 -1.45,-4.55 A1.45,1.45 0 0 1 1.45,-4.55 C1.45,-3.4 0.4,-1.9 0,-0.9Z" transform="rotate(240)"/><path d="M0,-0.9 C-0.4,-1.9 -1.45,-3.4 -1.45,-4.55 A1.45,1.45 0 0 1 1.45,-4.55 C1.45,-3.4 0.4,-1.9 0,-0.9Z" transform="rotate(300)"/></g></svg>
<div class="t c" style="left:97.9px;top:697.56px;letter-spacing:0.472px">Shape (hình dạng) (track 10)</div>
<div class="ln" style="left:307.7px;width:393.8px;top:710.2px"></div>
<div class="t c" style="left:702.4px;top:698.16px;letter-spacing:0.667px">30</div>
<svg class="i" style="left:67.9px;top:735.8px" width="15.6" height="15.6" viewBox="-7 -7 14 14"><g fill="#80c9b6"><path d="M0,-0.9 C-0.4,-1.9 -1.45,-3.4 -1.45,-4.55 A1.45,1.45 0 0 1 1.45,-4.55 C1.45,-3.4 0.4,-1.9 0,-0.9Z" transform="rotate(0)"/><path d="M0,-0.9 C-0.4,-1.9 -1.45,-3.4 -1.45,-4.55 A1.45,1.45 0 0 1 1.45,-4.55 C1.45,-3.4 0.4,-1.9 0,-0.9Z" transform="rotate(60)"/><path d="M0,-0.9 C-0.4,-1.9 -1.45,-3.4 -1.45,-4.55 A1.45,1.45 0 0 1 1.45,-4.55 C1.45,-3.4 0.4,-1.9 0,-0.9Z" transform="rotate(120)"/><path d="M0,-0.9 C-0.4,-1.9 -1.45,-3.4 -1.45,-4.55 A1.45,1.45 0 0 1 1.45,-4.55 C1.45,-3.4 0.4,-1.9 0,-0.9Z" transform="rotate(180)"/><path d="M0,-0.9 C-0.4,-1.9 -1.45,-3.4 -1.45,-4.55 A1.45,1.45 0 0 1 1.45,-4.55 C1.45,-3.4 0.4,-1.9 0,-0.9Z" transform="rotate(240)"/><path d="M0,-0.9 C-0.4,-1.9 -1.45,-3.4 -1.45,-4.55 A1.45,1.45 0 0 1 1.45,-4.55 C1.45,-3.4 0.4,-1.9 0,-0.9Z" transform="rotate(300)"/></g></svg>
<div class="t c" style="left:97.9px;top:737.96px;letter-spacing:0.515px">Color (màu sắc) (track 11)</div>
<div class="ln" style="left:289.8px;width:411.7px;top:750.6px"></div>
<div class="t c" style="left:702.8px;top:738.56px;letter-spacing:0.667px">31</div>
<svg class="i" style="left:67.9px;top:776.0px" width="15.6" height="15.6" viewBox="-7 -7 14 14"><g fill="#80c9b6"><path d="M0,-0.9 C-0.4,-1.9 -1.45,-3.4 -1.45,-4.55 A1.45,1.45 0 0 1 1.45,-4.55 C1.45,-3.4 0.4,-1.9 0,-0.9Z" transform="rotate(0)"/><path d="M0,-0.9 C-0.4,-1.9 -1.45,-3.4 -1.45,-4.55 A1.45,1.45 0 0 1 1.45,-4.55 C1.45,-3.4 0.4,-1.9 0,-0.9Z" transform="rotate(60)"/><path d="M0,-0.9 C-0.4,-1.9 -1.45,-3.4 -1.45,-4.55 A1.45,1.45 0 0 1 1.45,-4.55 C1.45,-3.4 0.4,-1.9 0,-0.9Z" transform="rotate(120)"/><path d="M0,-0.9 C-0.4,-1.9 -1.45,-3.4 -1.45,-4.55 A1.45,1.45 0 0 1 1.45,-4.55 C1.45,-3.4 0.4,-1.9 0,-0.9Z" transform="rotate(180)"/><path d="M0,-0.9 C-0.4,-1.9 -1.45,-3.4 -1.45,-4.55 A1.45,1.45 0 0 1 1.45,-4.55 C1.45,-3.4 0.4,-1.9 0,-0.9Z" transform="rotate(240)"/><path d="M0,-0.9 C-0.4,-1.9 -1.45,-3.4 -1.45,-4.55 A1.45,1.45 0 0 1 1.45,-4.55 C1.45,-3.4 0.4,-1.9 0,-0.9Z" transform="rotate(300)"/></g></svg>
<div class="t c" style="left:97.9px;top:778.16px;letter-spacing:0.460px">Material (chất liệu) (track 12)</div>
<div class="ln" style="left:311.8px;width:388.6px;top:790.8px"></div>
<div class="t c" style="left:701.3px;top:778.76px;letter-spacing:0.667px">32</div>
<svg class="i" style="left:67.9px;top:868.5px" width="15.6" height="15.6" viewBox="-7 -7 14 14"><g fill="#80c9b6"><path d="M0,-0.9 C-0.4,-1.9 -1.45,-3.4 -1.45,-4.55 A1.45,1.45 0 0 1 1.45,-4.55 C1.45,-3.4 0.4,-1.9 0,-0.9Z" transform="rotate(0)"/><path d="M0,-0.9 C-0.4,-1.9 -1.45,-3.4 -1.45,-4.55 A1.45,1.45 0 0 1 1.45,-4.55 C1.45,-3.4 0.4,-1.9 0,-0.9Z" transform="rotate(60)"/><path d="M0,-0.9 C-0.4,-1.9 -1.45,-3.4 -1.45,-4.55 A1.45,1.45 0 0 1 1.45,-4.55 C1.45,-3.4 0.4,-1.9 0,-0.9Z" transform="rotate(120)"/><path d="M0,-0.9 C-0.4,-1.9 -1.45,-3.4 -1.45,-4.55 A1.45,1.45 0 0 1 1.45,-4.55 C1.45,-3.4 0.4,-1.9 0,-0.9Z" transform="rotate(180)"/><path d="M0,-0.9 C-0.4,-1.9 -1.45,-3.4 -1.45,-4.55 A1.45,1.45 0 0 1 1.45,-4.55 C1.45,-3.4 0.4,-1.9 0,-0.9Z" transform="rotate(240)"/><path d="M0,-0.9 C-0.4,-1.9 -1.45,-3.4 -1.45,-4.55 A1.45,1.45 0 0 1 1.45,-4.55 C1.45,-3.4 0.4,-1.9 0,-0.9Z" transform="rotate(300)"/></g></svg>
<div class="t c" style="left:97.9px;top:870.66px;letter-spacing:0.362px">Life stage (các giai đoạn trong đời)</div>
<div class="ln" style="left:348.6px;width:350.8px;top:883.3px"></div>
<div class="t c" style="left:702.8px;top:871.26px;letter-spacing:0.667px">34</div>
<svg class="i" style="left:94.0px;top:906.5px" width="20" height="16" viewBox="0 0 20 16"><path d="M5.0,9.7 Q5.0,8.5 6.2,8.5 L8.3,10.9 Q12.2,5.6 17.2,1.6 Q18.1,1.4 18.1,2.3 Q12.9,7.2 9.0,13.0 Q8.3,13.7 7.7,13.1 Z" fill="#92c7b9"/></svg>
<div class="t c" style="left:128.5px;top:910.86px;letter-spacing:0.514px">Birth (sự ra đời) (track 13)</div>
<div class="ln" style="left:320.0px;width:383.0px;top:923.5px"></div>
<div class="t c" style="left:702.2px;top:911.46px;letter-spacing:0.667px">34</div>
<svg class="i" style="left:94.0px;top:946.8px" width="20" height="16" viewBox="0 0 20 16"><path d="M5.0,9.7 Q5.0,8.5 6.2,8.5 L8.3,10.9 Q12.2,5.6 17.2,1.6 Q18.1,1.4 18.1,2.3 Q12.9,7.2 9.0,13.0 Q8.3,13.7 7.7,13.1 Z" fill="#92c7b9"/></svg>
<div class="t c" style="left:128.5px;top:951.16px;letter-spacing:0.407px">Childhood (thời thơ ấu) (track 14)</div>
<div class="ln" style="left:370.6px;width:332.6px;top:963.8px"></div>
<div class="t c" style="left:702.9px;top:951.76px;letter-spacing:0.667px">35</div>
<svg class="i" style="left:94.0px;top:987.0px" width="20" height="16" viewBox="0 0 20 16"><path d="M5.0,9.7 Q5.0,8.5 6.2,8.5 L8.3,10.9 Q12.2,5.6 17.2,1.6 Q18.1,1.4 18.1,2.3 Q12.9,7.2 9.0,13.0 Q8.3,13.7 7.7,13.1 Z" fill="#92c7b9"/></svg>
<div class="t c" style="left:128.5px;top:991.36px;letter-spacing:0.460px">Adulthood (tuổi trưởng thành) (track 15)</div>
<div class="ln" style="left:421.8px;width:281.4px;top:1004.0px"></div>
<div class="t c" style="left:702.9px;top:991.96px;letter-spacing:0.667px">37</div>
<svg class="i" style="left:94.0px;top:1027.2px" width="20" height="16" viewBox="0 0 20 16"><path d="M5.0,9.7 Q5.0,8.5 6.2,8.5 L8.3,10.9 Q12.2,5.6 17.2,1.6 Q18.1,1.4 18.1,2.3 Q12.9,7.2 9.0,13.0 Q8.3,13.7 7.7,13.1 Z" fill="#92c7b9"/></svg>
<div class="t c" style="left:128.5px;top:1031.56px;letter-spacing:0.339px">Old age (tuổi già) (track 16)</div>
<div class="ln" style="left:328.3px;width:374.9px;top:1044.2px"></div>
<div class="t c" style="left:702.9px;top:1032.16px;letter-spacing:0.667px">38</div>
<div class="t" style="left:502.3px;top:1074.02px;font-family:'DejaVu Sans',sans-serif;font-size:14.4px;line-height:14.4px;color:#2b2b2b;-webkit-text-stroke:0.05px #2b2b2b;letter-spacing:0.078px">Mind Map English Vocabulary</div>
<div style="position:absolute;left:721px;top:1076px;width:1px;height:12px;background:#222;box-shadow:0.6px 0 0 rgba(50,50,50,0.45)"></div>
<div class="t" style="left:732.6px;top:1074.02px;font-family:'DejaVu Sans',sans-serif;font-size:14.4px;line-height:14.4px;color:#1e1e1e;font-weight:bold;transform:scaleX(0.85);transform-origin:0 0">9</div>
</body></html>
